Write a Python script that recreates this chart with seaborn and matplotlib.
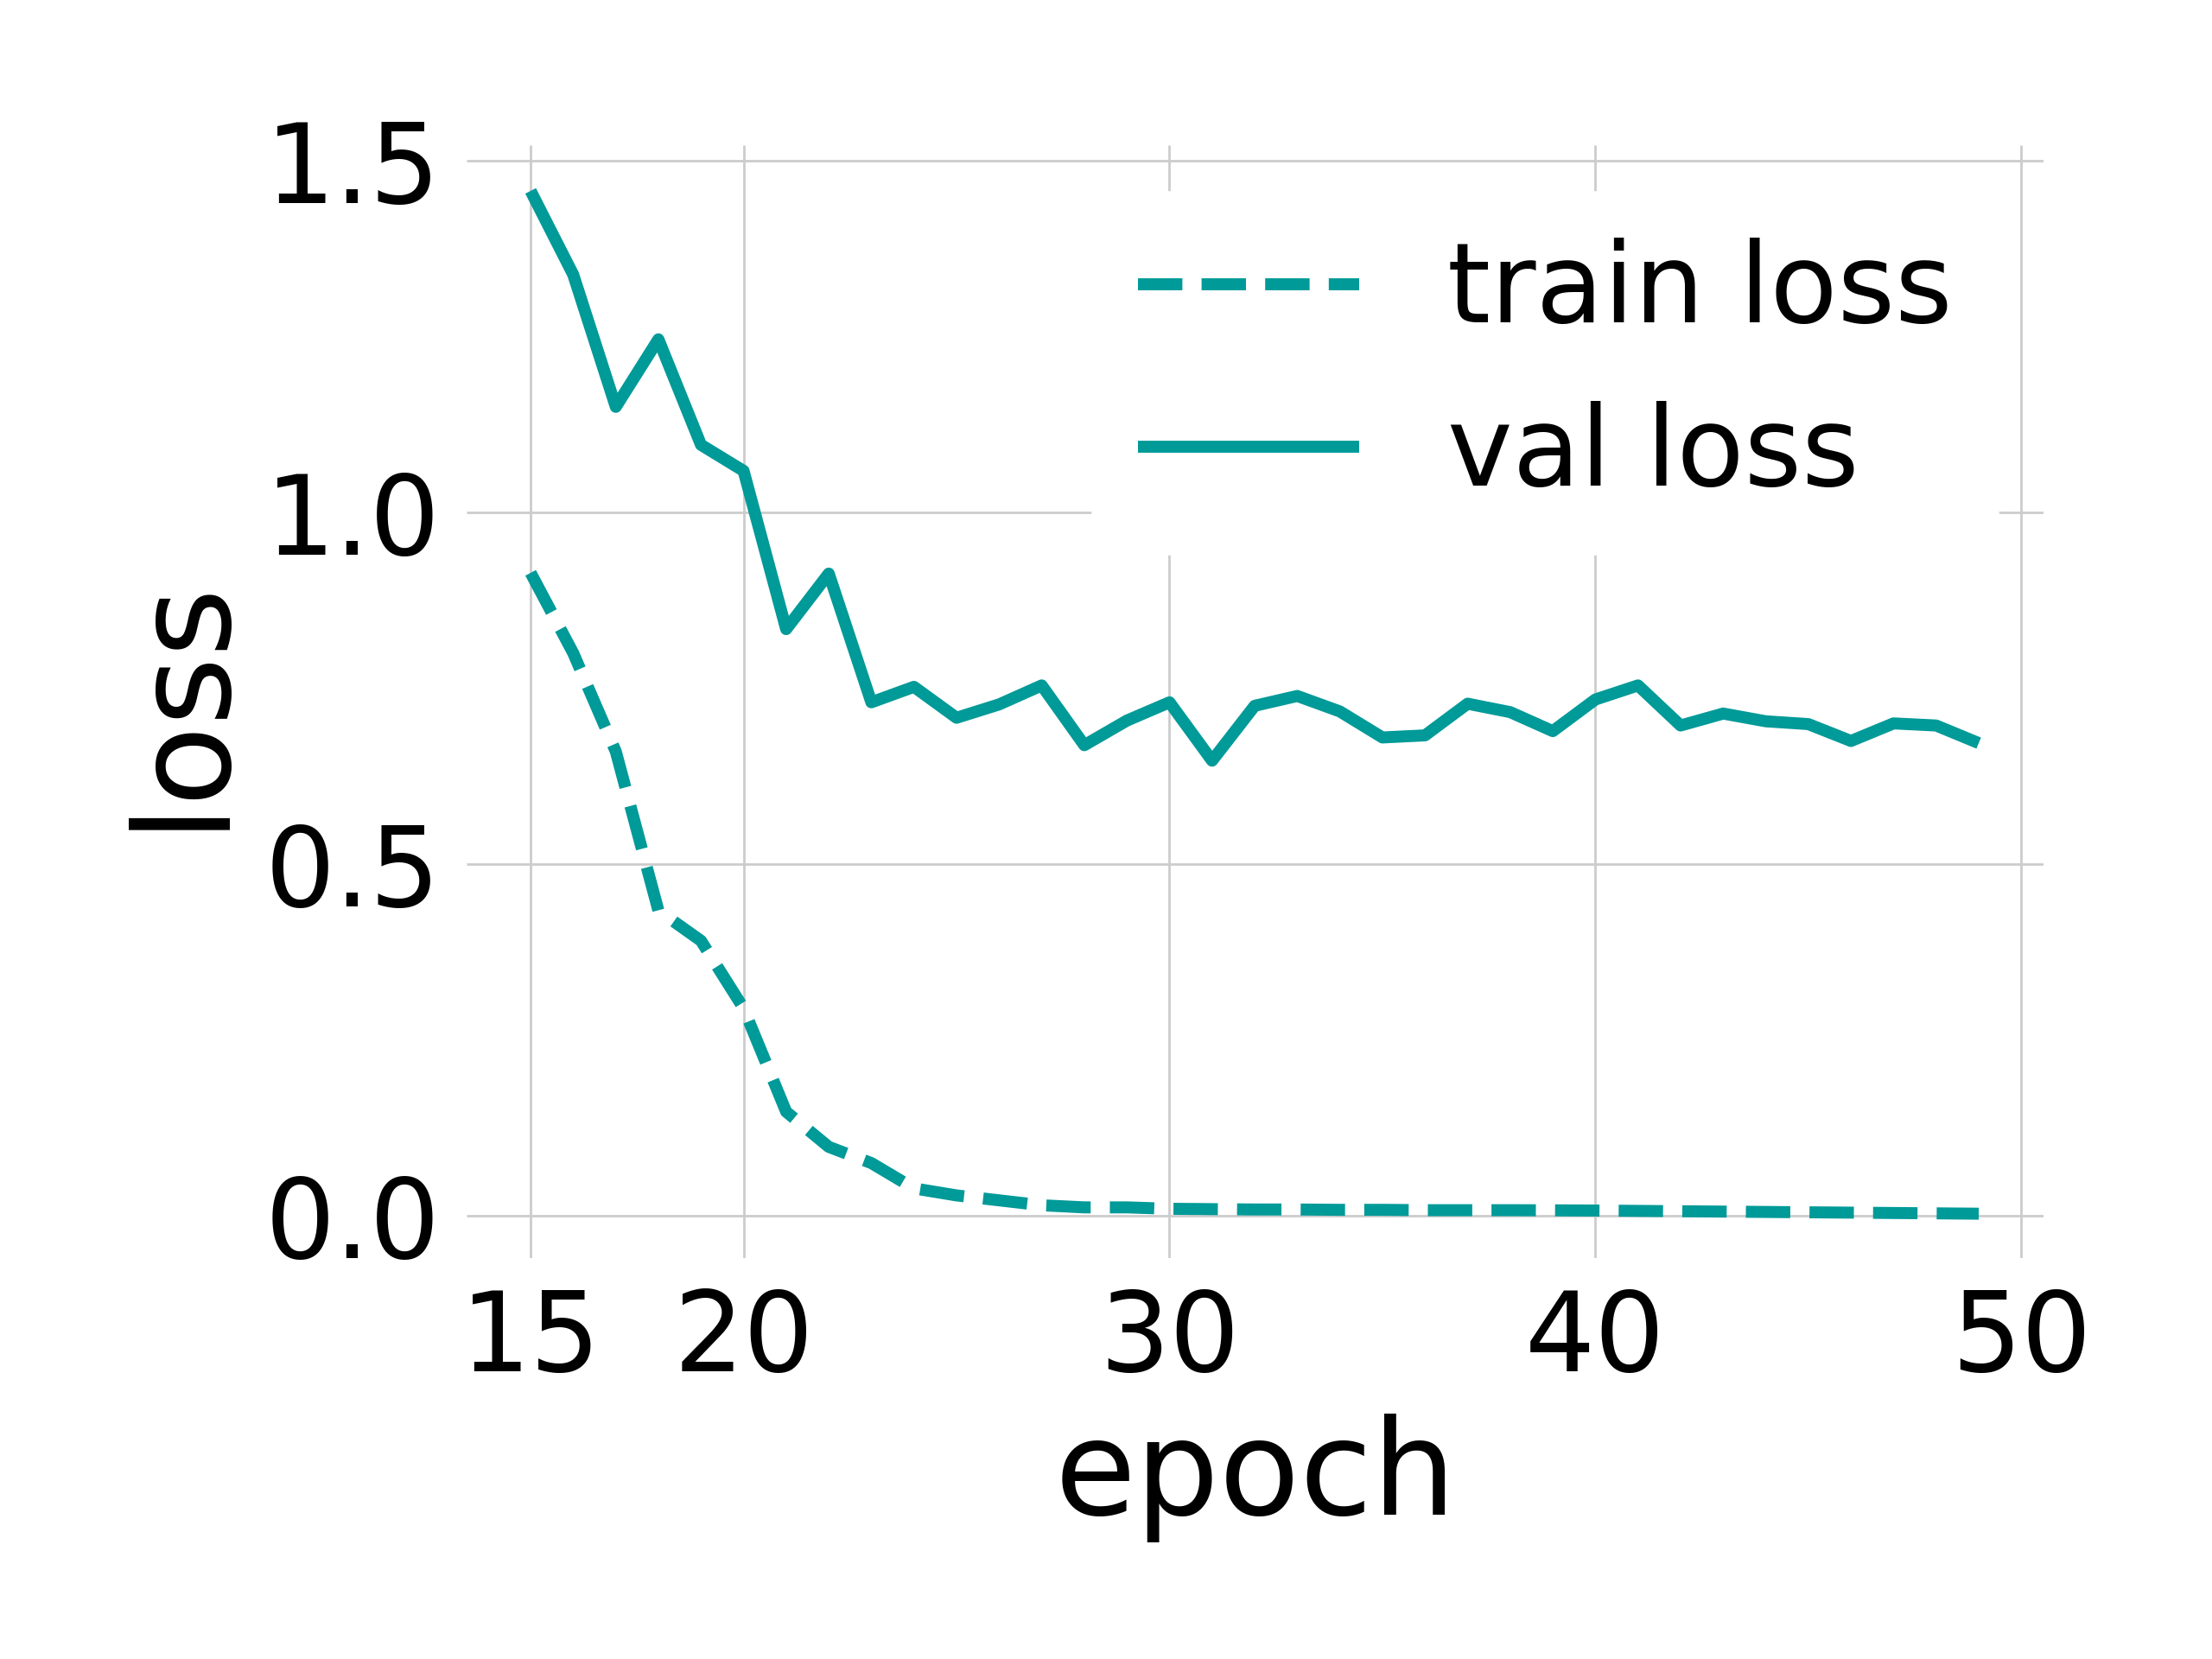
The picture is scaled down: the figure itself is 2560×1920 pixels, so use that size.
import numpy as np
import pandas as pd
import matplotlib
matplotlib.use("Agg")
import matplotlib.pyplot as plt
import seaborn as sns

epochs = list(range(15, 50))
train_loss = [0.914, 0.800, 0.660, 0.434, 0.391, 0.295, 0.148, 0.098, 0.075, 0.039,
              0.029, 0.022, 0.015, 0.012, 0.012, 0.010, 0.0095, 0.009, 0.009, 0.0085,
              0.0085, 0.008, 0.008, 0.008, 0.0078, 0.0075, 0.007, 0.0065, 0.006, 0.0055,
              0.005, 0.0045, 0.004, 0.0035, 0.003]
val_loss = [1.457, 1.338, 1.150, 1.246, 1.096, 1.059, 0.834, 0.913, 0.730, 0.752,
            0.708, 0.727, 0.754, 0.669, 0.704, 0.730, 0.647, 0.725, 0.739, 0.717,
            0.680, 0.683, 0.728, 0.716, 0.689, 0.734, 0.754, 0.697, 0.714, 0.703,
            0.699, 0.675, 0.700, 0.697, 0.672]
xticks = [15, 20, 30, 40, 50]
yticks = [0.0, 0.5, 1.0, 1.5]

color = "#009a98"

sns.set_theme(style="whitegrid")
plt.rcParams["font.family"] = ["DejaVu Sans"]
plt.rcParams["grid.color"] = "#cccccc"
plt.rcParams["grid.linewidth"] = 0.5
plt.rcParams["lines.solid_capstyle"] = "butt"
plt.rcParams["lines.dash_capstyle"] = "butt"
plt.rcParams["text.color"] = "black"
plt.rcParams["axes.labelcolor"] = "black"
plt.rcParams["xtick.color"] = "black"
plt.rcParams["ytick.color"] = "black"

fig, ax = plt.subplots(figsize=(6.4, 4.8), dpi=400)
fig.subplots_adjust(left=0.211, right=0.924, top=0.9125, bottom=0.2417)

df = pd.DataFrame({"epoch": epochs, "train": train_loss, "val": val_loss})
sns.lineplot(data=df, x="epoch", y="train", ax=ax, color=color, lw=2.5,
             linestyle="--", label="train loss")
sns.lineplot(data=df, x="epoch", y="val", ax=ax, color=color, lw=2.5,
             linestyle="-", label="val loss")

ax.set_xlim(13.5, 50.53)
ax.set_ylim(-0.060, 1.522)
ax.set_xticks(xticks)
ax.set_yticks(yticks)
ax.set_xlabel("epoch", fontsize=27.5, color="black")
ax.set_ylabel("loss", fontsize=27.5, color="black", labelpad=4)
ax.tick_params(axis="both", labelsize=23, length=0, labelcolor="black")
ax.tick_params(axis="y", pad=5.5)
ax.tick_params(axis="x", pad=6)
for s in ax.spines.values():
    s.set_visible(False)

leg = ax.legend(loc="upper right", bbox_to_anchor=(1.005, 1.006), fontsize=23,
                frameon=True, framealpha=1.0, edgecolor="white",
                facecolor="white", fancybox=False)
for t in leg.get_texts():
    t.set_color("black")

fig.savefig("out.png", dpi=400)
